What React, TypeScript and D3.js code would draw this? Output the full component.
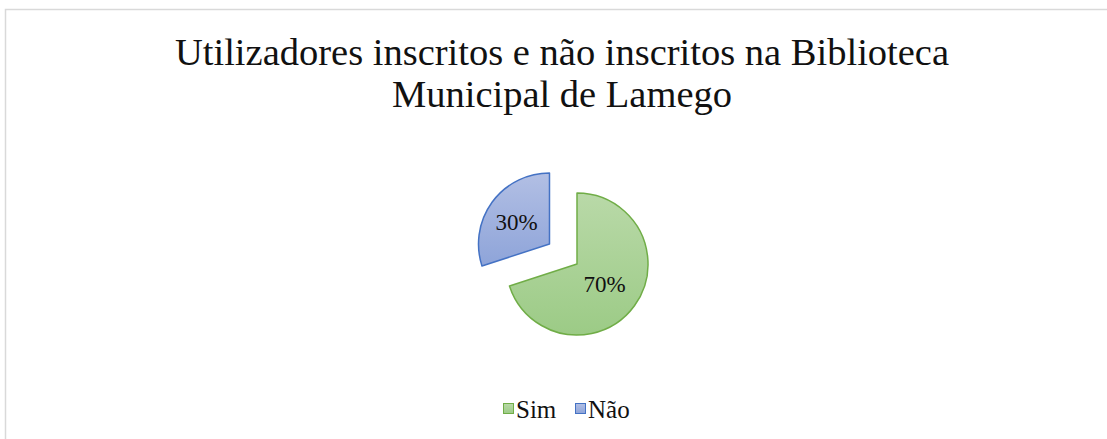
import React, { useEffect, useRef } from "react";
import * as d3 from "d3";

const categories = ["Sim", "Não"];
const values = [70, 30];
const labels = ["70%", "30%"];
const titleLines = ["Utilizadores inscritos e não inscritos na Biblioteca", "Municipal de Lamego"];

const fills = [["#b9d9a8", "#9ccb86"], ["#b2bfe4", "#8ea4d9"]];
const strokes = ["#70ad47", "#4472c4"];
const font = "'Liberation Serif', 'Times New Roman', serif";

const App = () => {
  const ref = useRef<SVGSVGElement>(null);

  useEffect(() => {
    const svg = d3.select(ref.current);
    svg.selectAll("*").remove();

    const width = 1107;
    const height = 439;
    const cx = 577;
    const cy = 264;
    const r = 71;
    const explode = 34;

    svg.append("rect")
      .attr("x", 5.5).attr("y", 9.5)
      .attr("width", 1110).attr("height", 440)
      .attr("fill", "white").attr("stroke", "#d9d9d9").attr("stroke-width", 1.5);

    const defs = svg.append("defs");
    fills.forEach((f, i) => {
      const g = defs.append("linearGradient").attr("id", `g${i}`)
        .attr("x1", 0).attr("y1", 0).attr("x2", 0).attr("y2", 1);
      g.append("stop").attr("offset", "0%").attr("stop-color", f[0]);
      g.append("stop").attr("offset", "100%").attr("stop-color", f[1]);
    });

    const title = svg.append("text")
      .attr("text-anchor", "middle")
      .style("font-family", font)
      .style("font-size", "38.5px")
      .attr("fill", "#111");
    titleLines.forEach((t, i) => {
      title.append("tspan").attr("x", 562).attr("y", 65 + i * 42).text(t);
    });

    const pie = d3.pie<number>().sort(null)(values);
    const arc = d3.arc<d3.PieArcDatum<number>>().innerRadius(0).outerRadius(r);

    const slices = svg.append("g").attr("transform", `translate(${cx},${cy})`);
    pie.forEach((d, i) => {
      const mid = (d.startAngle + d.endAngle) / 2;
      const off = i === 1 ? explode : 0;
      const dx = Math.sin(mid) * off;
      const dy = -Math.cos(mid) * off;
      const g = slices.append("g").attr("transform", `translate(${dx},${dy})`);
      g.append("path")
        .attr("d", arc(d) as string)
        .attr("fill", `url(#g${i})`)
        .attr("stroke", strokes[i])
        .attr("stroke-width", 1.5)
        .attr("stroke-linejoin", "round");
      const lr = r * (i === 1 ? 0.52 : 0.48);
      g.append("text")
        .attr("x", Math.sin(mid) * lr - (i === 1 ? 3 : 0))
        .attr("y", -Math.cos(mid) * lr)
        .attr("dy", "0.33em")
        .attr("text-anchor", "middle")
        .style("font-family", font)
        .style("font-size", "23px")
        .attr("fill", "#111")
        .text(labels[i]);
    });

    const legend = svg.append("g")
      .style("font-family", font)
      .style("font-size", "25px")
      .attr("fill", "#111");
    const lx = [503, 575];
    categories.forEach((c, i) => {
      legend.append("rect")
        .attr("x", lx[i] + 0.5).attr("y", 403.5).attr("width", 10).attr("height", 10)
        .attr("fill", `url(#g${i})`).attr("stroke", strokes[i]).attr("stroke-width", 1);
      legend.append("text").attr("x", lx[i] + 13).attr("y", 418).text(c);
    });

    svg.attr("width", width).attr("height", height);
  }, []);

  return <svg ref={ref} style={{ position: "absolute", left: 0, top: 0, display: "block" }} />;
};

export default App;
